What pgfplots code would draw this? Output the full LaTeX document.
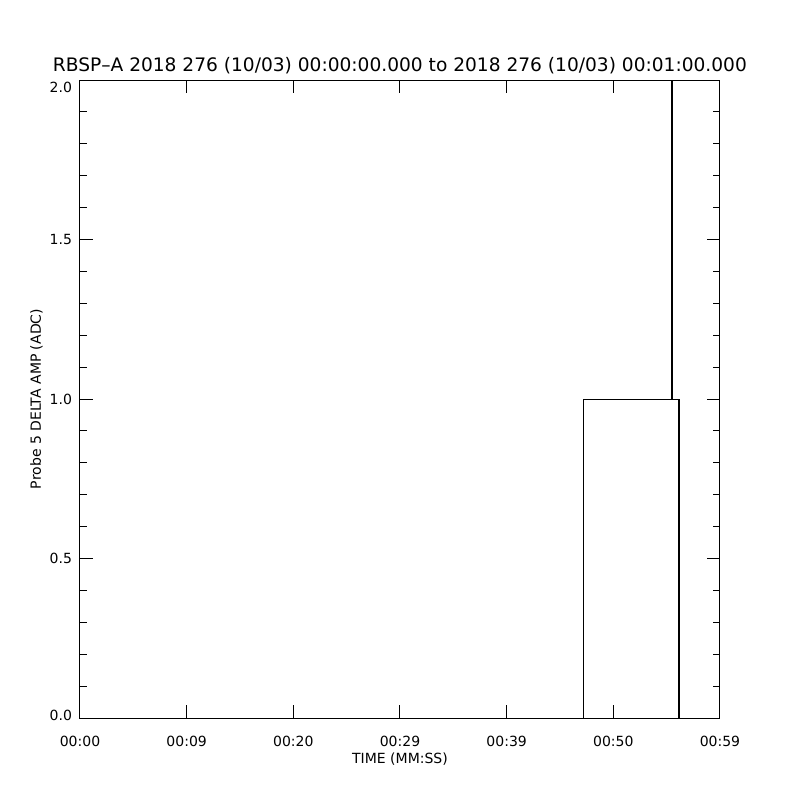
\documentclass[border=0pt]{standalone}
\usepackage{fontspec}
\setmainfont{DejaVu Sans}
\usepackage{pgfplots}
\pgfplotsset{compat=1.18}
\begin{document}
\begin{tikzpicture}
\begin{axis}[
  at={(0pt,0pt)}, anchor=south west,
  width=320pt, height=319pt, scale only axis,
  xmin=0, xmax=60, ymin=0, ymax=2,
  xtick={0,10,20,30,40,50,60},
  xticklabels={00:00,00:09,00:20,00:29,00:39,00:50,00:59},
  ytick={0,0.5,1,1.5,2},
  yticklabels={\raisebox{1.5pt}{0.0},0.5,1.0,1.5,\raisebox{-3.5pt}{2.0}},
  minor y tick num=4,
  tick align=inside,
  major tick length=6.5pt, minor tick length=3.3pt,
  axis line style={line width=0.5pt},
  every tick/.style={line width=0.5pt, black},
  font=\fontsize{7}{8.4}\selectfont,
  /pgf/number format/assume math mode=true,
  xticklabel style={anchor=base, yshift=-14pt},
  yticklabel style={anchor=base east, xshift=-0.5pt, yshift=-2.55pt},
  title={RBSP{\textendash}A 2018 276 (10/03) 00:00:00.000 to 2018 276 (10/03) 00:01:00.000},
  title style={at={(axis description cs:0.5,1.0125)}, anchor=base, inner sep=0pt, yshift=-5.5pt, font=\fontsize{9.3}{11}\selectfont},
  xlabel={TIME (MM:SS)},
  xlabel style={at={(axis description cs:0.5,-0.072)}, anchor=base, inner sep=0pt},
  ylabel={Probe 5 DELTA AMP (ADC)},
  ylabel style={at={(axis description cs:-0.061,0.5)}, anchor=base, inner sep=0pt},
]
\addplot[black, line width=0.5pt] coordinates {
  (0,0) (47.16,0) (47.16,1) (55.50,1) (55.50,2.6) (55.56,2.6) (55.56,1)
  (56.08,1) (56.08,0.5) (56.24,0.5) (56.24,1)
};
\addplot[black, line width=1pt] coordinates {(56.18,0.5) (56.18,0)};
\end{axis}
\path (-40pt,-41pt) rectangle (360pt,359pt);
\end{tikzpicture}
\end{document}
